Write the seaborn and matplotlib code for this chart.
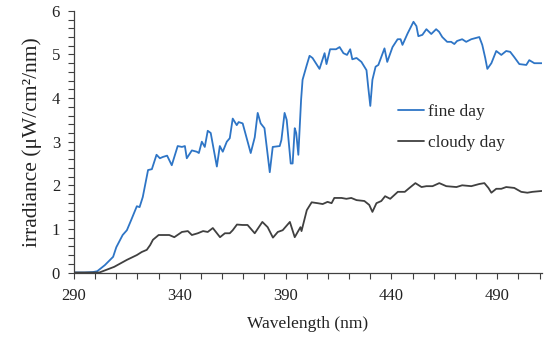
import pandas as pd
import seaborn as sns
import matplotlib.pyplot as plt
from matplotlib.ticker import MultipleLocator

# values
wl_fine = [290, 295, 299, 301, 304.6, 308.5, 310, 313, 315, 317, 319.7, 321, 322.5, 325, 326.8,
           329, 330.6, 332, 334, 336.2, 339, 341, 342.4, 343.3, 345.7, 348, 349, 350.4, 351.8,
           353.2, 354.6, 357.5, 358.9, 360.3, 362.2, 363.6, 365, 366.9, 367.8, 369.7, 373.5,
           375.4, 376.8, 378.2, 380, 382.5, 383.9, 387.2, 388, 389.5, 390.5, 392.4, 393.3,
           394.3, 395, 396, 397.3, 398, 400, 401.3, 402.7, 406, 408.4, 409.3, 411, 413.8,
           415.5, 417.3, 419, 420.5, 421.5, 423.5, 425.8, 428.2, 429, 430, 431, 432.5, 433.8,
           436.7, 438, 440.5, 442.9, 444.3, 445.2, 447.6, 450.4, 451.8, 452.7, 454.6, 456.5,
           458.8, 461.1, 462.5, 464, 466.3, 468.2, 469.7, 471, 473.4, 475.3, 477.7, 481.5,
           482.9, 484.3, 485.3, 487.2, 489.5, 491.9, 494.2, 496.1, 498, 500.4, 503.7, 505.1,
           507.5, 511]
fine_day = [0.0, 0.0, 0.01, 0.03, 0.17, 0.36, 0.58, 0.86, 0.97, 1.2, 1.52, 1.5, 1.73, 2.35, 2.37,
            2.7, 2.62, 2.65, 2.68, 2.46, 2.9, 2.88, 2.9, 2.62, 2.8, 2.77, 2.74, 3.0, 2.88,
            3.25, 3.2, 2.43, 2.9, 2.77, 3.0, 3.08, 3.53, 3.38, 3.45, 3.42, 2.74,
            3.1, 3.66, 3.42, 3.31, 2.3, 2.88, 2.9, 3.04, 3.66, 3.5, 2.5, 2.5,
            3.31, 3.2, 2.7, 3.96, 4.42, 4.76, 4.97, 4.92, 4.67, 5.03, 4.78, 5.12, 5.12,
            5.17, 5.03, 4.99, 5.12, 4.89, 4.92, 4.83, 4.64, 4.26, 3.82, 4.42, 4.72, 4.76,
            5.14, 4.83, 5.17, 5.35, 5.35, 5.22, 5.48, 5.75, 5.65, 5.42, 5.45, 5.58,
            5.47, 5.58, 5.52, 5.4, 5.29, 5.29, 5.24, 5.31, 5.35, 5.29, 5.35, 5.4,
            5.22, 4.92, 4.67, 4.8, 5.08, 4.99, 5.08, 5.06, 4.94, 4.78, 4.76, 4.87,
            4.8, 4.8]

wl_cloudy = [290, 296, 302, 309, 315, 319.7, 322, 324.4, 326, 327.3, 330, 335, 337.4, 341, 343.8,
             345.7, 348.5, 351, 353.2, 355.6, 359, 361.3, 363.6, 365, 367, 369.7, 372, 375.4,
             379, 381.5, 384, 386.3, 388.6, 392, 394.3, 397, 397.5, 400, 402.3, 405.1, 407.5,
             409.8, 411.7, 413, 416.4, 418.7, 421, 423.5, 427.2, 429.5, 431, 432.9, 435.2,
             437, 439.4, 443, 446.3, 448.5, 451.3, 454.2, 456.5, 459.4, 462.6, 465.9, 470.7,
             473.4, 477.7, 481.5, 483.9, 485.8, 487.2, 489.5, 491.9, 494.2, 498, 501.3, 504.2,
             506.6, 511]
cloudy_day = [0.0, 0.0, 0.0, 0.13, 0.29, 0.4, 0.47, 0.52, 0.63, 0.75, 0.86, 0.86, 0.81, 0.93, 0.95,
              0.86, 0.9, 0.95, 0.93, 1.02, 0.81, 0.9, 0.9, 0.97, 1.1, 1.09, 1.09, 0.9,
              1.16, 1.04, 0.8, 0.93, 0.97, 1.16, 0.81, 1.04, 0.95, 1.43, 1.61, 1.59, 1.57,
              1.62, 1.59, 1.71, 1.71, 1.69, 1.71, 1.66, 1.64, 1.55, 1.39, 1.59, 1.64,
              1.75, 1.69, 1.85, 1.85, 1.94, 2.05, 1.96, 1.98, 1.98, 2.05, 1.98, 1.96,
              2.0, 1.98, 2.03, 2.05, 1.94, 1.83, 1.92, 1.92, 1.96, 1.94, 1.85, 1.83,
              1.85, 1.87]

x_major = [290, 340, 390, 440, 490]

fine_df = pd.DataFrame({"Wavelength": wl_fine, "irradiance": fine_day})
cloudy_df = pd.DataFrame({"Wavelength": wl_cloudy, "irradiance": cloudy_day})

sns.set_style("ticks")
plt.rcParams['font.family'] = ['Liberation Serif', 'DejaVu Serif']

fig = plt.figure(figsize=(5.5, 3.4), dpi=100)
ax = fig.add_axes([0.1345, 0.1985, 0.8505, 0.7695])

sns.lineplot(x="Wavelength", y="irradiance", data=fine_df, ax=ax, color="#2E75C6",
             linewidth=1.3, label="fine day", sort=False)
sns.lineplot(x="Wavelength", y="irradiance", data=cloudy_df, ax=ax, color="#404040",
             linewidth=1.3, label="cloudy day", sort=False)

ax.set_xlim(290, 511)
ax.set_ylim(0, 6)
ax.set_xticks(x_major)
ax.set_xticks(list(range(290, 511, 10)), minor=True)
ax.yaxis.set_major_locator(MultipleLocator(1))
ax.yaxis.set_minor_locator(MultipleLocator(0.2))
ax.tick_params(which="both", direction="out", length=4, width=0.8, color="#404040",
               labelsize=12, labelcolor="#222222")
ax.tick_params(axis="x", pad=7)
ax.tick_params(axis="y", pad=6)

for side in ["top", "right"]:
    ax.spines[side].set_visible(False)
for side in ["left", "bottom"]:
    ax.spines[side].set_color("#404040")
    ax.spines[side].set_linewidth(0.9)

ax.set_xlabel("Wavelength (nm)", fontsize=12.5, color="#222222", labelpad=9)
ax.set_ylabel("irradiance (μW/cm²/nm)", fontsize=15.5, color="#222222", labelpad=7)

ax.legend(loc="center left", bbox_to_anchor=(0.66, 0.555), frameon=False, fontsize=12.5,
          handlelength=1.5, handletextpad=0.2, labelspacing=0.85)

plt.savefig("out.png", dpi=100)
